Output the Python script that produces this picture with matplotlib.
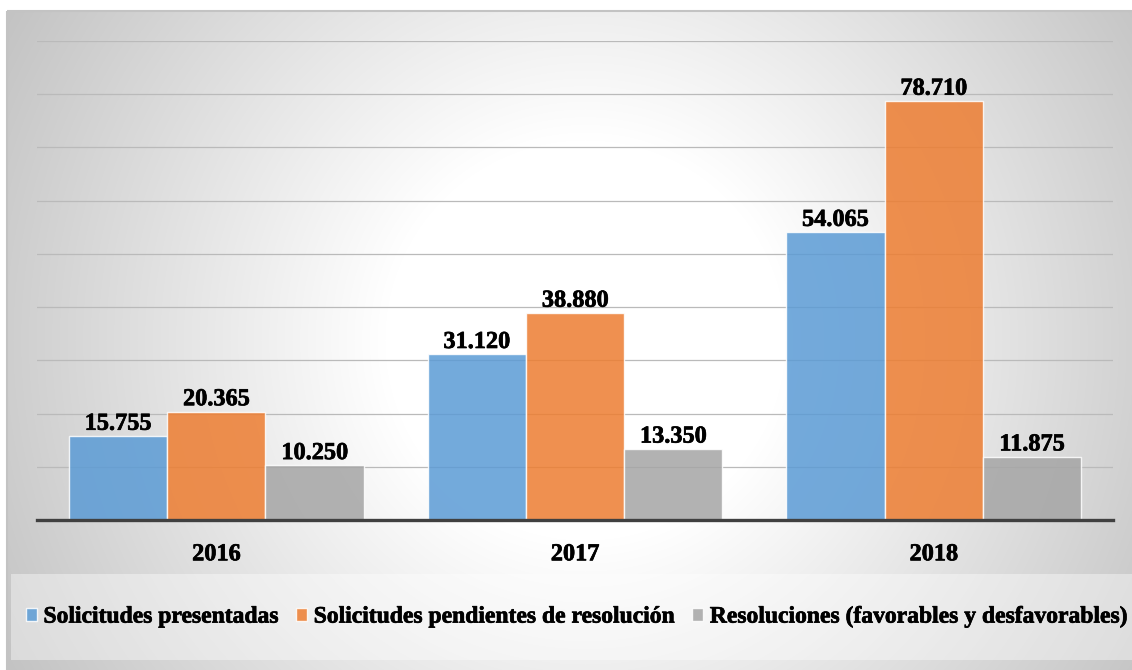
import matplotlib
matplotlib.use('Agg')
import matplotlib.pyplot as plt
from matplotlib.patches import Rectangle, Patch
import matplotlib.patheffects as pe
import numpy as np

plt.rcParams['font.family'] = ['Liberation Serif', 'DejaVu Serif']
plt.rcParams['font.weight'] = 'bold'

# datos
years = ['2016', '2017', '2018']
presentadas = [15755, 31120, 54065]
pendientes = [20365, 38880, 78710]
resoluciones = [10250, 13350, 11875]
series_names = ['Solicitudes presentadas',
                'Solicitudes pendientes de resolución',
                'Resoluciones (favorables y desfavorables)']
colors = ['#5B9BD5', '#ED7D31', '#A5A5A5']

W, H = 1132, 670
fig = plt.figure(figsize=(W / 100, H / 100), dpi=100)
bold_fx = [pe.withStroke(linewidth=0.5, foreground='black')]

# fondo con degradado radial
bg = fig.add_axes([0, 0, 1, 1])
bg.set_xlim(0, W)
bg.set_ylim(H, 0)
bg.axis('off')
yy, xx = np.mgrid[0:H, 0:W]
r = np.hypot(xx - 585, yy - 340)
shade = 255 - 60 * np.clip((r - 200) / 465, 0, 1)
img = np.dstack([shade, shade, shade]) / 255.0
img[:11, :, :] = 1.0
img[:, :7, :] = 1.0
bg.imshow(img, extent=(0, W, H, 0), aspect='auto', zorder=0)
bg.add_patch(Rectangle((7, 11), W + 10, H + 10, fill=False,
                       edgecolor='#c3c3c3', lw=1.5, zorder=1))
# caja de leyenda
bg.add_patch(Rectangle((11, 574), W, 86, facecolor='white', alpha=0.4,
                       edgecolor='none', zorder=1))

ax = fig.add_axes([37 / W, 1 - 520 / H, (1113 - 37) / W, (520 - 41) / H])
ax.patch.set_alpha(0)

x = np.arange(len(years))
w = 0.274
for i, (vals, c) in enumerate(zip([presentadas, pendientes, resoluciones], colors)):
    bars = ax.bar(x + (i - 1) * w, vals, w, color=c, alpha=0.85,
                  edgecolor=(1, 1, 1, 0.7), linewidth=1, zorder=3,
                  label=series_names[i])
    for b, v in zip(bars, vals):
        ax.annotate(f'{v:,}'.replace(',', '.'),
                    (b.get_x() + b.get_width() / 2, v),
                    xytext=(0, 1), textcoords='offset points',
                    ha='center', va='bottom', fontsize=17.5, fontweight='bold',
                    zorder=4, path_effects=bold_fx)

ax.set_xlim(-0.5, 2.5)
ax.set_ylim(0, 90000)
ax.set_yticks(np.arange(0, 90001, 10000))
ax.yaxis.grid(True, color='#bababa', linewidth=0.9, zorder=5)
ax.set_axisbelow(False)
ax.tick_params(axis='y', left=False, labelleft=False)
ax.set_xticks(x)
ax.set_xticklabels(years, fontsize=17.5, fontweight='bold')
for t in ax.get_xticklabels():
    t.set_path_effects(bold_fx)
ax.tick_params(axis='x', bottom=False, pad=14)
for s in ['top', 'right', 'left']:
    ax.spines[s].set_visible(False)
ax.spines['bottom'].set_color('#404040')
ax.spines['bottom'].set_linewidth(2.4)
ax.spines['bottom'].set_zorder(6)

handles = [Patch(facecolor=c, alpha=0.85, edgecolor=(1, 1, 1, 0.7)) for c in colors]
leg = fig.legend(handles, series_names, loc='center left',
                 bbox_to_anchor=(26 / W, 1 - 617 / H), ncol=3, frameon=False,
                 prop={'size': 17, 'weight': 'bold'}, borderpad=0, borderaxespad=0,
                 handlelength=0.47, handleheight=0.47, handletextpad=0.27,
                 columnspacing=0.72)
for t in leg.get_texts():
    t.set_path_effects(bold_fx)

fig.savefig('out.png', dpi=100)
